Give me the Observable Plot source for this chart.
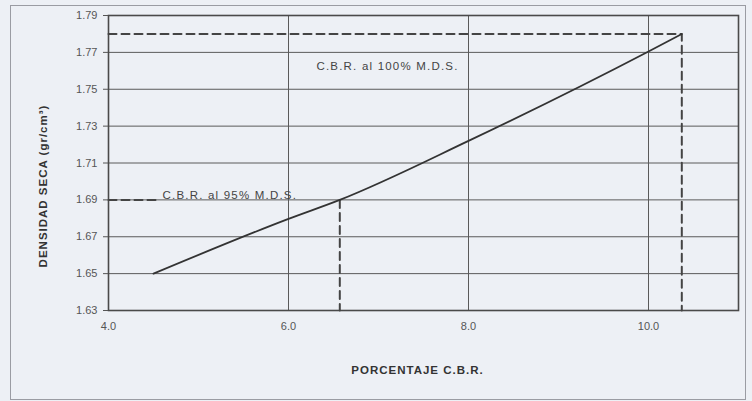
<!DOCTYPE html>
<html>
<head>
<meta charset="utf-8">
<script src="https://cdn.jsdelivr.net/npm/d3@7"></script>
<script src="https://cdn.jsdelivr.net/npm/@observablehq/plot@0.6"></script>
<style>
  html, body { margin: 0; padding: 0; background: #edf0f5; }
  #wrap { position: relative; width: 752px; height: 401px; }
  #border { position: absolute; left: 10px; top: 5px; width: 734px; height: 393px; border: 1px solid #9a9ca3; pointer-events: none; }
</style>
</head>
<body>
<div id="wrap"><div id="border"></div></div>
<script>
// Data
const cbrPct = [4.5, 6.0, 6.57, 8.0, 10.0, 10.37];               // PORCENTAJE C.B.R.
const densidad = [1.65, 1.6797, 1.69, 1.722, 1.7705, 1.78];     // DENSIDAD SECA (gr/cm3)
const cbr95 = 6.57, dens95 = 1.69;    // C.B.R. al 95% M.D.S.
const cbr100 = 10.37, dens100 = 1.78; // C.B.R. al 100% M.D.S.
const xTicks = [4, 6, 8, 10];
const yTicks = [1.63, 1.65, 1.67, 1.69, 1.71, 1.73, 1.75, 1.77, 1.79];
const labels = [
  {x: 7.1, y: 1.7625, text: "C.B.R. al 100% M.D.S."},
  {x: 4.6, y: 1.6925, text: "C.B.R. al 95% M.D.S."}
];

const curve = cbrPct.map((x, i) => ({x, y: densidad[i]}));
const xMin = 4, xMax = 11, yMin = 1.63, yMax = 1.79;

const chart = Plot.plot({
  width: 752,
  height: 401,
  marginLeft: 108,
  marginRight: 14,
  marginTop: 15,
  marginBottom: 91,
  style: {background: "transparent", fontFamily: "'Liberation Sans', Arial, sans-serif", fontSize: "11px", color: "#555"},
  x: {domain: [xMin, xMax]},
  y: {domain: [yMin, yMax]},
  marks: [
    Plot.ruleX(xTicks.filter(d => d > xMin), {stroke: "#5a5a5a", strokeWidth: 1}),
    Plot.ruleY(yTicks.filter(d => d > yMin && d < yMax), {stroke: "#5a5a5a", strokeWidth: 1}),
    Plot.frame({stroke: "#4a4a4a", strokeWidth: 1.6}),
    // dashed reference lines
    Plot.line([{x: xMin, y: dens100}, {x: cbr100, y: dens100}, {x: cbr100, y: yMin}],
      {x: "x", y: "y", stroke: "#444", strokeWidth: 2, strokeDasharray: "8,5"}),
    Plot.line([{x: xMin, y: dens95}, {x: 4.53, y: dens95}],
      {x: "x", y: "y", stroke: "#444", strokeWidth: 2, strokeDasharray: "8,5"}),
    Plot.line([{x: cbr95, y: dens95}, {x: cbr95, y: yMin}],
      {x: "x", y: "y", stroke: "#444", strokeWidth: 2, strokeDasharray: "8,5"}),
    // main curve
    Plot.line(curve, {x: "x", y: "y", stroke: "#333", strokeWidth: 1.8, curve: "monotone-x"}),
    Plot.text(labels.slice(0, 1), {x: "x", y: "y", text: "text", fill: "#444", fontSize: 11.5, textAnchor: "middle"}),
    Plot.text(labels.slice(1), {x: "x", y: "y", text: "text", fill: "#444", fontSize: 11.5, textAnchor: "start"}),
    Plot.axisX({ticks: xTicks, tickFormat: d3.format(".1f"), tickSize: 0, tickPadding: 12, fill: "#555",
      label: "PORCENTAJE C.B.R.", labelAnchor: "center", labelOffset: 63, labelArrow: "none"}),
    Plot.axisY({ticks: yTicks, tickFormat: d3.format(".2f"), tickSize: 5, tickPadding: 6, fill: "#555", stroke: "#555",
      label: "DENSIDAD SECA (gr/cm³)", labelAnchor: "center", labelOffset: 70, labelArrow: "none"})
  ]
});
// bold axis titles
chart.querySelectorAll("[aria-label='x-axis label'] text, [aria-label='y-axis label'] text").forEach(t => {
  t.setAttribute("font-weight", "bold");
  t.setAttribute("fill", "#333");
  t.style.letterSpacing = "1px";
  t.setAttribute("font-size", "11.5");
});
const xl = chart.querySelector("[aria-label='x-axis label']");
if (xl) xl.setAttribute("transform", ((xl.getAttribute("transform") || "") + " translate(-6,0)").trim());
const yl = chart.querySelector("[aria-label='y-axis label']");
if (yl) yl.setAttribute("transform", ((yl.getAttribute("transform") || "") + " translate(0,23)").trim());
chart.querySelectorAll("[aria-label='text'] text").forEach(t => {
  t.style.letterSpacing = "1.2px";
});
document.getElementById("wrap").prepend(chart);
</script>
</body>
</html>
